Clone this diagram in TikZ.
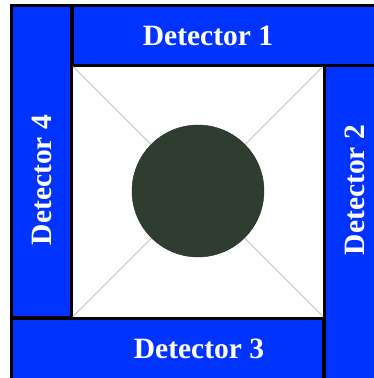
\documentclass[tikz,border=0pt]{standalone}
\usepackage{fontspec}
\setmainfont{Liberation Serif}
\definecolor{detblue}{RGB}{0,51,255}
\definecolor{targetgreen}{RGB}{47,61,48}
\begin{document}
\begin{tikzpicture}[x=1pt,y=-1pt,
  detbox/.style={draw=black,line width=3.5pt,fill=detblue},
  detlabel/.style={text=white,font=\fontsize{29.5}{32}\selectfont\bfseries,inner sep=0pt},
  diag/.style={draw=black!35,line width=0.6pt}]
\useasboundingbox (0,0) rectangle (374,378);
\clip (0,0) rectangle (374,378);
% detector frames
\draw[detbox] (11.5,5.5) rectangle (72,318);
\draw[detbox] (72,5.5) rectangle (385,65.5);
\draw[detbox] (324,65.5) rectangle (385,379.5);
\draw[detbox] (11.5,318) rectangle (324,379.5);
% chamber
\node[fill=white,inner sep=0pt,minimum width=250pt,minimum height=250pt] (chamber) at (198,191.5) {};
\draw[diag] (chamber.north west) -- (chamber.south east);
\draw[diag] (chamber.north east) -- (chamber.south west);
\node[circle,fill=targetgreen,draw=targetgreen!80!black,line width=0.4pt,minimum size=132pt,inner sep=0pt] (target) at (198,191) {};
% labels
\node[detlabel] (l1) at (208,36) {Detector 1};
\node[detlabel,rotate=90] (l2) at (355,190) {Detector 2};
\node[detlabel] (l3) at (199,349) {Detector 3};
\node[detlabel,rotate=90] (l4) at (42,180) {Detector 4};
\end{tikzpicture}
\end{document}
